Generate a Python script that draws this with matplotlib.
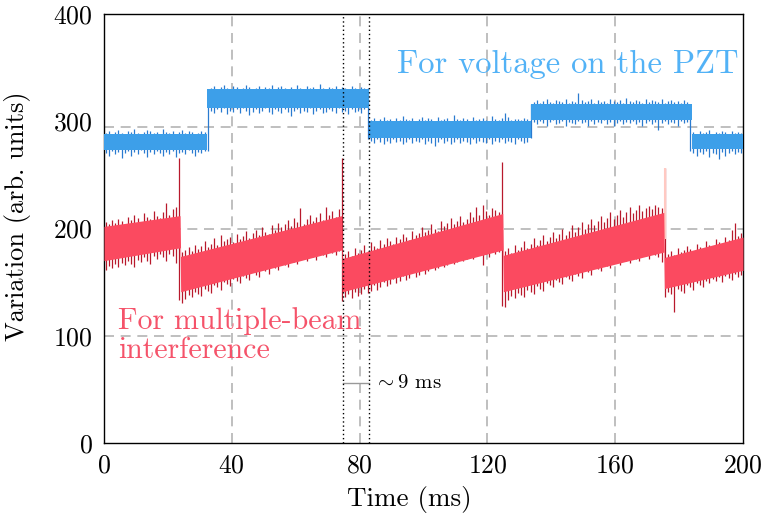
import numpy as np
import matplotlib
matplotlib.use("Agg")
import matplotlib.pyplot as plt

plt.rcParams['font.family'] = ['cmr10', 'DejaVu Serif']
plt.rcParams['mathtext.fontset'] = 'cm'
plt.rcParams['axes.formatter.use_mathtext'] = True

# ---------------- data ----------------
x_ticks = [0, 40, 80, 120, 160, 200]
y_ticks = [0, 100, 200, 300, 400]
grid_x = [40, 80, 120, 160]
grid_y = [100, 200, 295]
marker_t = [74.8, 83.0]          # dotted markers (~9 ms apart)

# sample time of each 1-ms bin (centre of bin)
t_ms = np.arange(200) + 0.5

# PZT voltage: band body (step signal)
blue_t  = [0, 32.3, 32.3, 82.9, 82.9, 133.6, 133.6, 184.0, 184.0, 200]
blue_hi = [288, 288, 330, 330, 300, 300, 316, 316, 288, 288]
blue_lo = [273, 273, 312, 312, 284, 284, 301, 301, 274, 274]

# PZT voltage: per-ms maximum / minimum of the noisy trace
blue_max = [289, 291, 288, 290, 292, 289, 288, 291, 290, 293, 289, 288, 290, 292, 291, 289,
            290, 288, 293, 290, 289, 291, 288, 290, 292, 289, 291, 290, 288, 289, 291, 290,
            330,
            331, 333, 330, 332, 334, 331, 330, 333, 332, 329, 331, 334, 332, 330, 331, 333,
            330, 332, 331, 334, 330, 332, 333, 331, 329, 332, 330, 334, 331, 330, 333, 331,
            332, 330, 335, 331, 330, 332, 331, 333, 330, 332, 331, 329, 333, 331, 330, 332, 331,
            331,
            301, 303, 300, 302, 304, 301, 302, 300, 303, 301, 305, 302, 301, 303, 300, 302,
            304, 301, 303, 302, 300, 304, 301, 302, 303, 300, 306, 302, 301, 303, 302, 300,
            304, 301, 302, 303, 301, 300, 305, 302, 301, 303, 308, 304, 301, 302, 302, 301, 303, 302,
            316,
            318, 320, 317, 319, 321, 318, 317, 320, 319, 318, 321, 317, 319, 318, 326, 320,
            318, 319, 321, 317, 320, 318, 319, 317, 321, 319, 318, 320, 317, 322, 319, 318,
            320, 319, 317, 321, 318, 320, 319, 318, 321, 317, 319, 320, 318, 319, 317, 320, 318,
            316,
            290, 288, 291, 289, 290, 292, 288, 290, 289, 291, 290, 288, 291, 289, 290, 289]
blue_min = [270, 268, 272, 269, 271, 266, 270, 272, 268, 271, 269, 273, 270, 267, 271, 269,
            272, 270, 268, 271, 269, 272, 267, 270, 271, 269, 273, 270, 268, 271, 270, 272,
            272,
            310, 308, 311, 309, 312, 307, 310, 309, 311, 308, 312, 310, 306, 309, 311, 308,
            310, 312, 309, 307, 311, 310, 308, 311, 309, 305, 310, 311, 308, 310, 309, 312,
            307, 310, 311, 308, 309, 311, 310, 308, 312, 309, 310, 307, 311, 309, 310, 308, 311,
            283,
            282, 280, 283, 281, 279, 282, 280, 283, 281, 282, 279, 281, 283, 280, 282, 281,
            283, 279, 282, 280, 277, 281, 283, 280, 282, 279, 281, 283, 280, 282, 281, 279,
            283, 280, 282, 281, 280, 283, 279, 282, 281, 283, 280, 282, 281, 279, 283, 282, 280, 281,
            284,
            299, 297, 300, 298, 296, 299, 301, 297, 298, 300, 296, 299, 298, 297, 300, 298,
            299, 296, 300, 297, 299, 298, 301, 297, 299, 296, 298, 300, 297, 299, 298, 300,
            297, 299, 296, 298, 300, 297, 299, 292, 298, 300, 297, 299, 298, 296, 300, 298, 299,
            272,
            270, 268, 271, 269, 272, 267, 270, 269, 265, 271, 268, 270, 272, 269, 271, 270]

# multiple-beam interference: band body (sawtooth signal)
red_t  = [0, 23.8, 24.0, 74.4, 74.6, 124.8, 125.0, 175.2, 175.4, 200]
red_hi = [202, 212, 174, 212, 172, 214, 175, 215, 173, 192]
red_lo = [170, 182, 141, 180, 141, 180, 141, 178, 144, 161]

# multiple-beam interference: per-ms maximum / minimum of the noisy trace
red_max = [206, 204, 208, 205, 209, 207, 203, 211, 208, 213, 210, 206, 214, 211, 209, 216,
           212, 210, 215, 224, 213, 218, 220,
           266,
           178, 180, 183, 179, 185, 181, 184, 188, 183, 186, 191, 185, 194, 188, 190, 192,
           187, 195, 190, 193, 198, 191, 196, 199, 194, 201, 197, 195, 203, 199, 205, 201,
           204, 208, 202, 210, 206, 219, 204, 209, 213, 207, 211, 214, 208, 220, 213, 216, 211, 218,
           266,
           176, 179, 174, 182, 177, 180, 185, 179, 187, 184, 182, 189, 186, 191, 188, 186,
           192, 190, 195, 192, 189, 198, 194, 196, 201, 197, 199, 204, 200, 198, 207, 202,
           205, 210, 204, 207, 212, 206, 209, 215, 211, 220, 213, 222, 216, 213, 219, 217, 215,
           262,
           179, 182, 177, 185, 180, 183, 188, 182, 186, 191, 185, 189, 194, 188, 192, 197,
           191, 195, 200, 194, 198, 203, 197, 201, 206, 200, 204, 209, 203, 207, 212, 206,
           210, 215, 209, 213, 217, 211, 215, 220, 214, 217, 222, 216, 219, 221, 218, 222, 220, 219,
           256,
           176, 179, 175, 182, 178, 180, 184, 181, 179, 186, 183, 181, 188, 185, 183, 190,
           187, 185, 192, 189, 199, 205, 193, 196]
red_min = [161, 165, 163, 167, 164, 168, 166, 170, 167, 164, 171, 169, 173, 170, 167, 174,
           172, 176, 173, 170, 176, 174, 168,
           133,
           131, 134, 138, 136, 141, 139, 137, 144, 142, 140, 147, 145, 143, 150, 148, 146,
           153, 151, 149, 156, 154, 152, 159, 157, 155, 162, 160, 158, 165, 163, 161, 168,
           166, 164, 171, 169, 167, 174, 172, 170, 175, 173, 171, 177, 175, 173, 179, 177, 175, 179,
           132,
           136, 139, 135, 141, 137, 139, 144, 140, 142, 147, 143, 145, 150, 146, 148, 153,
           149, 151, 156, 152, 154, 159, 155, 157, 162, 158, 160, 165, 161, 163, 168, 164,
           166, 171, 167, 169, 174, 170, 172, 176, 172, 174, 178, 166, 176, 173, 179, 176, 178,
           128,
           127, 133, 137, 135, 140, 138, 136, 143, 141, 139, 146, 144, 142, 149, 147, 145,
           152, 150, 148, 155, 153, 151, 158, 156, 154, 161, 159, 157, 164, 162, 160, 167,
           165, 163, 170, 168, 166, 172, 170, 168, 174, 172, 170, 176, 174, 172, 177, 175, 173, 169,
           136,
           141, 139, 122, 144, 142, 140, 147, 145, 143, 149, 147, 145, 151, 149, 153, 151,
           155, 150, 156, 154, 152, 158, 155, 157]

assert len(blue_max) == len(blue_min) == len(red_max) == len(red_min) == 200

label_pzt = "For voltage on the PZT"
label_mbi = "For multiple-beam\ninterference"
label_dt = r"$\sim$9 ms"

# ---------------- style ----------------
BLUE_FILL, BLUE_EDGE, BLUE_TXT = '#3d9fe9', '#2a7bd0', '#52b2f6'
RED_FILL, RED_EDGE, RED_TXT = '#fb4a60', '#b8192c', '#f5536a'
GRID = '#b4b4b4'

fig = plt.figure(figsize=(7.67, 5.21), dpi=100)
ax = fig.add_axes([104/767, 1 - 443/521, (743-104)/767, (443-14)/521])
ax.set_xlim(0, 200)
ax.set_ylim(0, 400)

for gx in grid_x:
    ax.axvline(gx, color=GRID, lw=1.2, ls=(0, (6, 4)), zorder=0)
for gy in grid_y:
    ax.axhline(gy, color=GRID, lw=1.2, ls=(0, (6, 4)), zorder=0)
for mt in marker_t:
    ax.axvline(mt, color='black', lw=1.0, ls=(0, (1, 2.0)), zorder=5)

# blue trace
ax.vlines(t_ms, blue_min, blue_max, colors=BLUE_EDGE, lw=0.9, zorder=2)
ax.fill_between(blue_t, blue_lo, blue_hi, color=BLUE_FILL, lw=0, zorder=3)

# red trace
ax.vlines(t_ms, red_min, red_max, colors=RED_EDGE, lw=0.9, zorder=2)
ax.fill_between(red_t, red_lo, red_hi, color=RED_FILL, lw=0, zorder=3)
ax.vlines([t_ms[175]], [190], [red_max[175]], colors='#ffc9c2', lw=1.5, zorder=2.5)

# ~9 ms annotation
ax.plot(marker_t, [56, 56], color='#999999', lw=1.0, zorder=4)
ax.text(84.6, 56, label_dt, fontsize=15, va='center', ha='left')

ax.text(198.6, 353, label_pzt, color=BLUE_TXT, fontsize=23.5, ha='right', va='center')
ax.text(4.5, 100, label_mbi, color=RED_TXT, fontsize=21.5, ha='left', va='center', linespacing=1.1)

ax.set_xticks(x_ticks)
ax.set_yticks(y_ticks)
ax.tick_params(length=0, labelsize=18.5, pad=8)
ax.set_xlabel('Time (ms)', fontsize=19.5)
ax.set_ylabel('Variation (arb. units)', fontsize=19)
ax.xaxis.set_label_coords((409 - 104) / 639, -0.10)
ax.yaxis.set_label_coords((31 - 104) / 639, (443 - 216) / 429)
for s in ax.spines.values():
    s.set_linewidth(1.0)

fig.savefig('out.png', dpi=100)
